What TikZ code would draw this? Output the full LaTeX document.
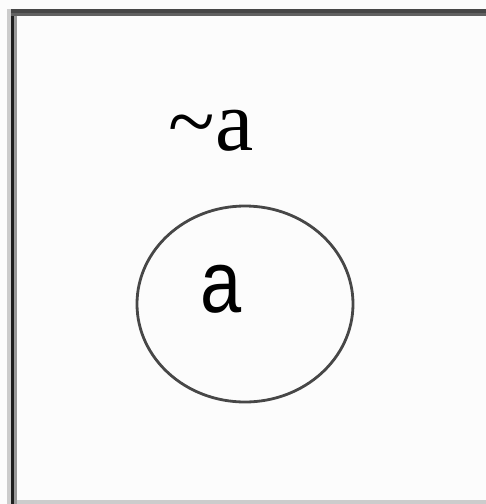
\documentclass[tikz,border=0pt]{standalone}
\usepackage{fontspec}
\setmainfont{Liberation Serif}
\setsansfont[FakeStretch=0.84]{Liberation Sans}
\usetikzlibrary{shapes.geometric}
\tikzset{
  setshape/.style  = {draw=black!72,line width=2.8pt,ellipse,inner sep=0pt,
                      minimum width=216pt,minimum height=196pt},
  setlabel/.style  = {font=\sffamily\fontsize{88}{88}\selectfont,inner sep=0pt},
  complabel/.style = {font=\rmfamily\fontsize{86}{86}\selectfont,inner sep=0pt},
}
\begin{document}
\begin{tikzpicture}[x=1pt,y=-1pt]
  \useasboundingbox (0,0) rectangle (486,504);
  \fill[white!99!black] (0,0) rectangle (486,504);
  % frame of the universe
  \fill[black!20] (7,9) rectangle (17,504);
  \fill[black!40] (14,16) rectangle (17,504);
  \fill[black!88] (11,9) rectangle (14,504);
  \fill[black!72] (11,9) rectangle (486,13);
  \fill[black!62] (11,13) rectangle (486,16);
  \fill[black!20] (17,500) rectangle (486,504);
  % the set and its complement
  \node[complabel] (nota) at (211,131) {\textasciitilde a};
  \node[setshape] (seta) at (245,304) {};
  \node[setlabel] (labela) at (221,289) {a};
\end{tikzpicture}
\end{document}
